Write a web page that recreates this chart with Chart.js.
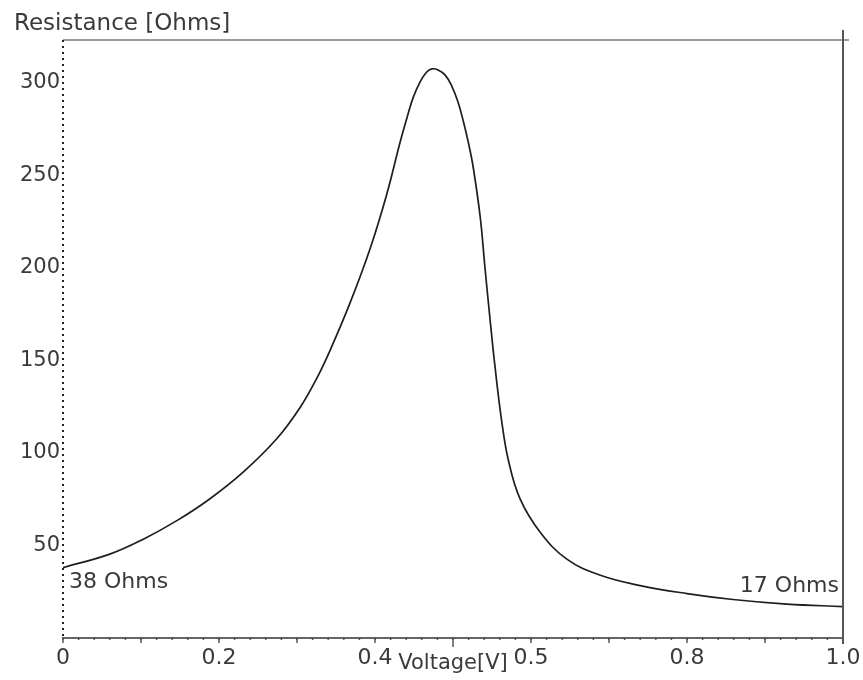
<!DOCTYPE html>
<html>
<head>
<meta charset="utf-8">
<script src="https://cdn.jsdelivr.net/npm/chart.js@4"></script>
<style>
  html, body { margin: 0; padding: 0; background: #fff; }
  #wrap { width: 863px; height: 680px; position: relative; }
</style>
</head>
<body>
<div id="wrap"><canvas id="resChart"></canvas></div>
<script>
// === DATA ===
const voltage = [0, 0.06, 0.103, 0.146, 0.188, 0.231, 0.274, 0.304, 0.325, 0.342, 0.368, 0.394, 0.415, 0.432, 0.441, 0.449, 0.458, 0.466, 0.473, 0.481, 0.49, 0.498, 0.506, 0.513, 0.52, 0.526, 0.535, 0.541, 0.548, 0.554, 0.562, 0.571, 0.586, 0.612, 0.646, 0.688, 0.74, 0.8, 0.859, 0.928, 1.0];
const resistance = [38, 45.3, 53.4, 63.4, 75.1, 89.6, 107.6, 124.5, 140, 155, 181, 210.7, 239.6, 267.5, 281, 292, 300.5, 305.6, 307.4, 306.8, 304, 298.5, 290, 279.5, 267, 254, 227, 200, 170, 146, 118.5, 96, 75.1, 57, 42.6, 34, 28.3, 24, 20.8, 18.3, 17];

const xTickValues = [0, 0.2, 0.4, 0.6, 0.8, 1.0];
const xTickLabels = ['0', '0.2', '0.4', '0.5', '0.8', '1.0'];
const yTickValues = [50, 100, 150, 200, 250, 300];
const xMinorStep = 0.02;
const xMidStep = 0.1;

const yTitle = 'Resistance [Ohms]';
const xTitle = 'Voltage[V]';
const startNote = '38 Ohms';
const endNote = '17 Ohms';

const FONT = '"DejaVu Sans", Verdana, sans-serif';
const TXT = '#3a3a3a';

// === EXTRA DRAWING (frame, minor ticks, titles, notes) ===
const decorPlugin = {
  id: 'decor',
  afterDraw(chart) {
    const ctx = chart.ctx;
    const a = chart.chartArea;
    const xs = chart.scales.x, ys = chart.scales.y;
    ctx.save();

    // top line
    ctx.strokeStyle = '#7a7a7a';
    ctx.lineWidth = 1.5;
    ctx.beginPath();
    ctx.moveTo(a.left, a.top);
    ctx.lineTo(a.right + 6, a.top);
    ctx.stroke();

    // right line
    ctx.strokeStyle = '#555';
    ctx.lineWidth = 2;
    ctx.beginPath();
    ctx.moveTo(a.right, a.top - 10);
    ctx.lineTo(a.right, a.bottom + 6);
    ctx.stroke();

    // dotted left axis
    ctx.strokeStyle = '#222';
    ctx.lineWidth = 2;
    ctx.setLineDash([2, 4]);
    ctx.beginPath();
    ctx.moveTo(a.left, a.top);
    ctx.lineTo(a.left, a.bottom);
    ctx.stroke();
    ctx.setLineDash([]);

    // minor ticks on x axis
    ctx.strokeStyle = '#555';
    ctx.lineWidth = 1.5;
    for (let v = 0; v <= 1.0001; v += xMinorStep) {
      const px = xs.getPixelForValue(v);
      ctx.beginPath();
      ctx.moveTo(px, a.bottom - 1);
      ctx.lineTo(px, a.bottom + 2);
      ctx.stroke();
    }
    for (let v = 0; v <= 1.0001; v += xMidStep) {
      const px = xs.getPixelForValue(v);
      const len = Math.abs(v - 0.5) < 0.001 ? 9 : 5;
      ctx.beginPath();
      ctx.moveTo(px, a.bottom);
      ctx.lineTo(px, a.bottom + len);
      ctx.stroke();
    }

    // x tick labels
    ctx.fillStyle = TXT;
    ctx.font = '22px ' + FONT;
    ctx.textAlign = 'center';
    ctx.textBaseline = 'middle';
    xTickValues.forEach((v, i) => {
      ctx.fillText(xTickLabels[i], xs.getPixelForValue(v), a.bottom + 20);
    });

    // x title
    ctx.font = '21px ' + FONT;
    ctx.fillText(xTitle, xs.getPixelForValue(0.5), a.bottom + 26);

    // y title
    ctx.textAlign = 'left';
    ctx.font = '23px ' + FONT;
    ctx.fillText(yTitle, 14, 24);

    // end notes
    ctx.font = '22px ' + FONT;
    ctx.fillText(startNote, xs.getPixelForValue(0) + 6, ys.getPixelForValue(38) + 15);
    ctx.textAlign = 'right';
    ctx.fillText(endNote, xs.getPixelForValue(1.0) - 4, ys.getPixelForValue(17) - 20);

    ctx.restore();
  }
};

const ctx = document.getElementById('resChart').getContext('2d');
new Chart(ctx, {
  type: 'line',
  data: {
    datasets: [{
      data: voltage.map((v, i) => ({ x: v, y: resistance[i] })),
      borderColor: '#1e1e1e',
      borderWidth: 1.7,
      pointRadius: 0,
      fill: false,
      tension: 0.4
    }]
  },
  options: {
    responsive: true,
    maintainAspectRatio: false,
    animation: false,
    layout: { padding: { left: 0, right: 20, top: 40, bottom: 0 } },
    plugins: { legend: { display: false }, tooltip: { enabled: false } },
    scales: {
      x: {
        type: 'linear',
        min: 0, max: 1.0,
        afterFit: s => { s.height = 42; },
        afterBuildTicks: s => { s.ticks = xTickValues.map(v => ({ value: v })); },
        ticks: { display: false },
        grid: { display: false },
        border: { display: true, color: '#666', width: 2 }
      },
      y: {
        min: 0, max: 323,
        afterFit: s => { s.width = 63; },
        afterBuildTicks: s => { s.ticks = yTickValues.map(v => ({ value: v })); },
        ticks: {
          color: TXT,
          padding: 3,
          font: { family: FONT, size: 21 }
        },
        grid: { display: false, drawTicks: false },
        border: { display: false }
      }
    }
  },
  plugins: [decorPlugin]
});
</script>
</body>
</html>
